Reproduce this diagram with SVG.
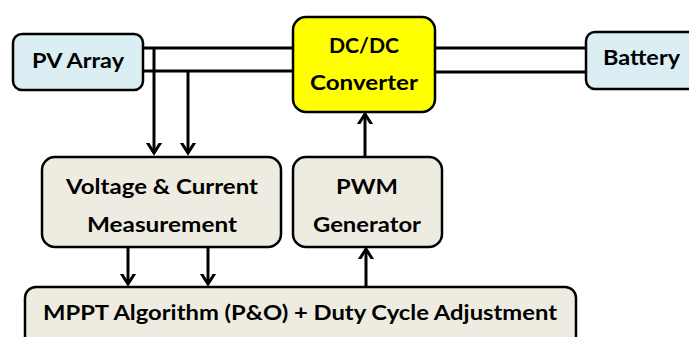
<svg xmlns="http://www.w3.org/2000/svg" width="689" height="337" viewBox="0 0 689 337">
<style>
.box{stroke:#000;stroke-width:2.5}
.blue{fill:#DBEEF4}
.beige{fill:#EEECE1}
.yellow{fill:#FFFF00}
.t{font-family:Lato,"Open Sans",sans-serif;font-weight:bold;font-size:21.5px;fill:#000;text-anchor:middle}
.w{stroke:#000;stroke-width:3;fill:none}
</style>
<defs>
<marker id="ah" markerUnits="userSpaceOnUse" markerWidth="20" markerHeight="20" viewBox="-10 -10 20 20" refX="0" refY="0" orient="auto">
<path d="M-11,-7 L0,0 L-11,7" fill="none" stroke="#000" stroke-width="3"/>
</marker>
</defs>
<rect width="689" height="337" fill="#fff"/>
<g id="connectors">
<line class="w" x1="143" y1="48" x2="293" y2="48"/>
<line class="w" x1="143" y1="71" x2="293" y2="71"/>
<line class="w" x1="435" y1="48" x2="586" y2="48"/>
<line class="w" x1="435" y1="72" x2="586" y2="72"/>
<line class="w" x1="154" y1="48" x2="154" y2="153" marker-end="url(#ah)"/>
<line class="w" x1="188" y1="71" x2="188" y2="153" marker-end="url(#ah)"/>
<line class="w" x1="365" y1="157" x2="365" y2="114" marker-end="url(#ah)"/>
<line class="w" x1="128" y1="247" x2="128" y2="284" marker-end="url(#ah)"/>
<line class="w" x1="208" y1="247" x2="208" y2="284" marker-end="url(#ah)"/>
<line class="w" x1="366" y1="287" x2="366" y2="249" marker-end="url(#ah)"/>
</g>
<g id="pv">
<rect class="box blue" x="13" y="34" width="130" height="56" rx="9"/>
<text class="t" x="78" y="68" textLength="92" lengthAdjust="spacingAndGlyphs">PV Array</text>
</g>
<g id="dcdc">
<rect class="box yellow" x="293" y="17" width="142" height="95" rx="13"/>
<text class="t" x="364" y="53" textLength="70" lengthAdjust="spacingAndGlyphs">DC/DC</text>
<text class="t" x="364" y="90" textLength="108" lengthAdjust="spacingAndGlyphs">Converter</text>
</g>
<g id="battery">
<rect class="box blue" x="586" y="32" width="115" height="57" rx="9"/>
<text class="t" x="641.5" y="65" textLength="77" lengthAdjust="spacingAndGlyphs">Battery</text>
</g>
<g id="measure">
<rect class="box beige" x="42" y="157" width="239" height="90" rx="13"/>
<text class="t" x="162" y="194" textLength="192" lengthAdjust="spacingAndGlyphs">Voltage &amp; Current</text>
<text class="t" x="162" y="232" textLength="150" lengthAdjust="spacingAndGlyphs">Measurement</text>
</g>
<g id="pwm">
<rect class="box beige" x="293" y="157" width="149" height="90" rx="13"/>
<text class="t" x="367" y="194" textLength="62" lengthAdjust="spacingAndGlyphs">PWM</text>
<text class="t" x="367" y="232" textLength="108" lengthAdjust="spacingAndGlyphs">Generator</text>
</g>
<g id="mppt">
<rect class="box beige" x="25" y="287" width="551" height="60" rx="11"/>
<text class="t" x="300" y="320" textLength="514" lengthAdjust="spacingAndGlyphs">MPPT Algorithm (P&amp;O) + Duty Cycle Adjustment</text>
</g>
</svg>
